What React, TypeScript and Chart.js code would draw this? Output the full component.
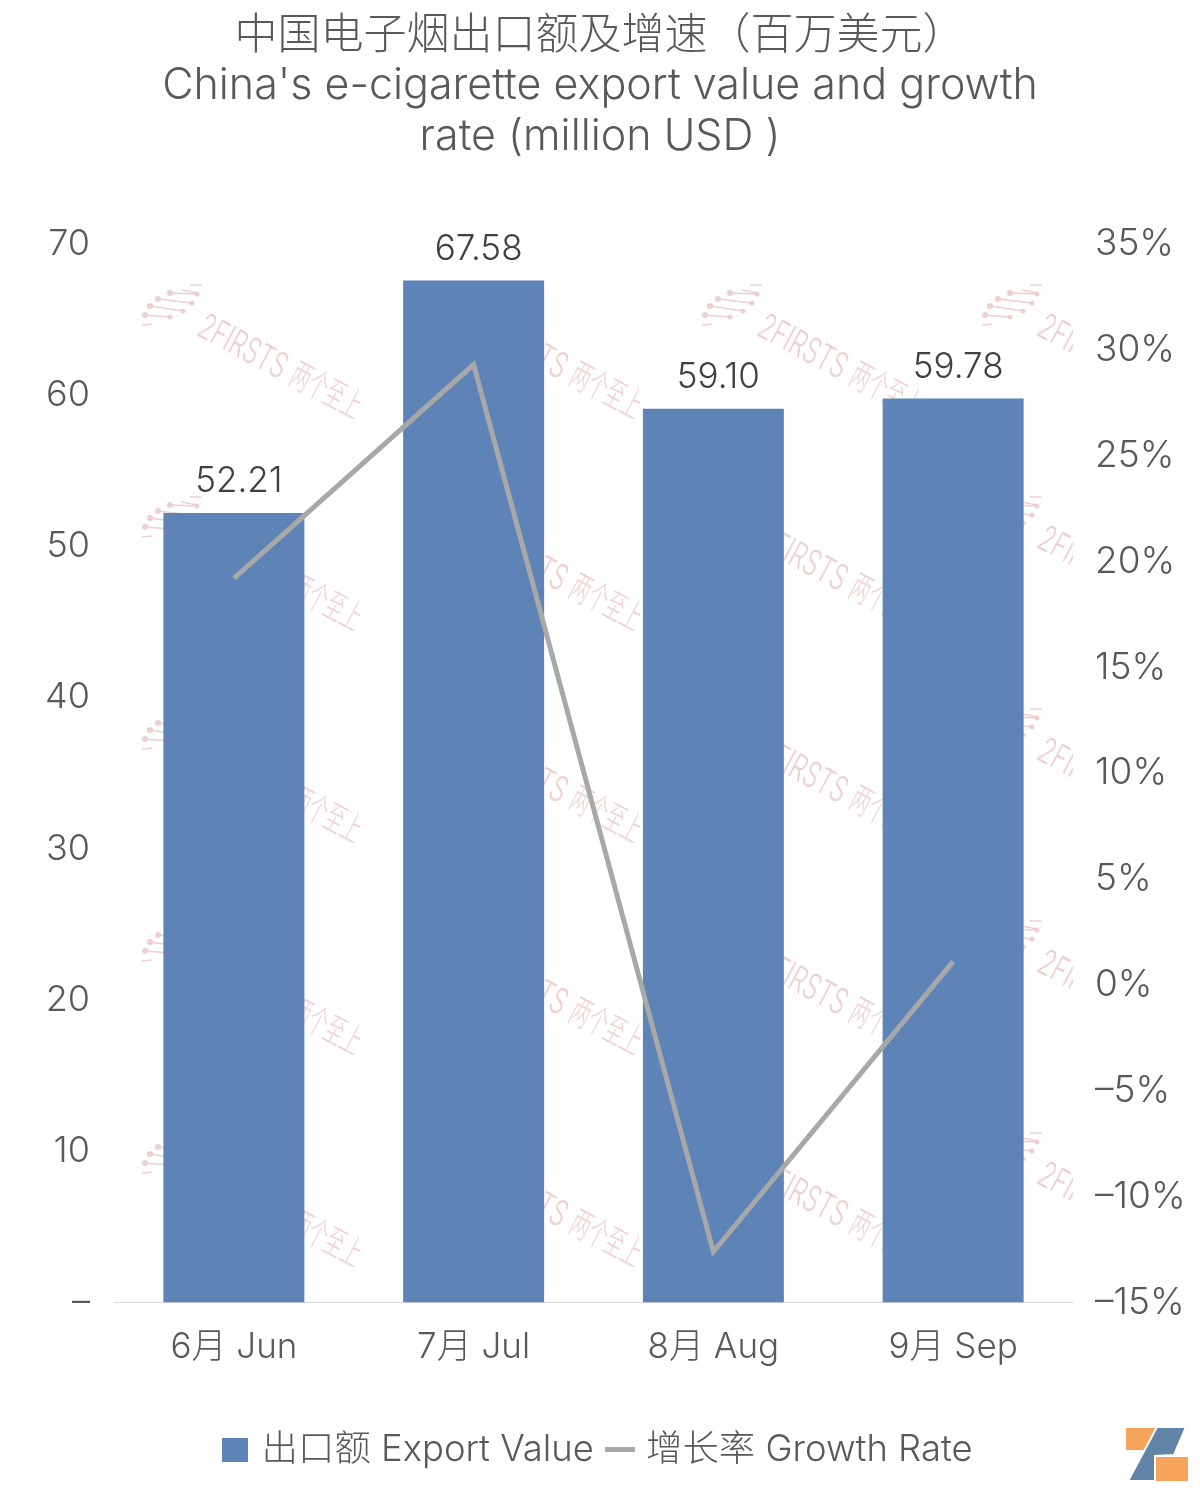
import { useEffect, useRef } from 'react'
import { Chart, registerables } from 'chart.js'

Chart.register(...registerables)

const FONT = 'Inter, "Noto Sans CJK SC", sans-serif'
const BAR_COLOR = '#5d83b7'
const LINE_COLOR = '#a8a8a8'
const TEXT_COLOR = '#595959'

const titleLines = ['中国电子烟出口额及增速（百万美元）', "China's e-cigarette export value and growth", 'rate (million USD )']
const months = ['6月 Jun', '7月 Jul', '8月 Aug', '9月 Sep']
const exportValue = [52.21, 67.58, 59.1, 59.78]
const growthRate = [19.2, 29.3, -12.6, 1.1]

// watermark icon strands, relative to the tile corner
const iconStrands = [
  [2, 40, 12, 39],
  [5, 30, 30, 32],
  [10, 21, 43, 26],
  [18, 14, 52, 18],
  [30, 8, 57, 9],
  [42, 5, 57, 8],
  [50, 0, 62, 0],
]

const makeSwatch = (w: number, h: number, color: string) => {
  const c = document.createElement('canvas')
  c.width = w
  c.height = h
  const ctx = c.getContext('2d')!
  ctx.fillStyle = color
  ctx.fillRect(0, 0, w, h)
  return c
}

const watermark = {
  id: 'watermark',
  beforeDatasetsDraw(chart: Chart) {
    const { ctx } = chart
    ctx.save()
    ctx.beginPath()
    ctx.rect(0, 200, 1073, 1103)
    ctx.clip()
    ctx.fillStyle = ctx.strokeStyle = '#efcfcf'
    for (let col = 0; col < 4; col++) {
      for (let row = 0; row < 5; row++) {
        const x = 140 + col * 280
        const y = 285 + row * 212
        ctx.lineWidth = 1.5
        iconStrands.forEach(([x1, y1, x2, y2], i) => {
          ctx.beginPath()
          ctx.moveTo(x + x1, y + y1)
          ctx.lineTo(x + x2, y + y2)
          ctx.stroke()
          if (i > 0 && i < 5) {
            ctx.beginPath()
            ctx.arc(x + x1, y + y1, 3, 0, Math.PI * 2)
            ctx.arc(x + x2, y + y2, 2.5, 0, Math.PI * 2)
            ctx.fill()
          }
        })
        // tilted brand text
        ctx.save()
        ctx.translate(x + 60, y + 40)
        ctx.rotate((28 * Math.PI) / 180)
        ctx.textAlign = 'left'
        ctx.textBaseline = 'middle'
        ctx.font = `300 30px ${FONT}`
        ctx.save()
        ctx.scale(0.8, 1.2)
        ctx.fillText('2FIRSTS', 0, 0)
        ctx.restore()
        ctx.save()
        ctx.translate(104, 0)
        ctx.scale(0.64, 1.15)
        ctx.fillText('两个至上', 0, 0)
        ctx.restore()
        ctx.restore()
      }
    }
    ctx.restore()
  },
}

const barLabels = {
  id: 'barLabels',
  afterDatasetsDraw(chart: Chart) {
    const { ctx } = chart
    ctx.save()
    chart.getDatasetMeta(0).data.forEach((bar, i) => {
      ctx.font = `300 35px ${FONT}`
      ctx.fillStyle = '#404040'
      ctx.textAlign = 'center'
      ctx.textBaseline = 'bottom'
      ctx.fillText(exportValue[i].toFixed(2), bar.x + 5, bar.y - 14)
    })
    ctx.restore()
  },
}

const logo = {
  id: 'logo',
  afterDraw(chart: Chart) {
    const { ctx } = chart
    ctx.save()
    ctx.fillStyle = '#f5a45c'
    ctx.fillRect(1126, 1428, 29, 22)
    ctx.fillRect(1156, 1457, 32, 24)
    ctx.fillStyle = '#5f84a8'
    ctx.strokeStyle = '#ffffff'
    ctx.lineWidth = 2
    ctx.beginPath()
    ctx.moveTo(1157, 1427)
    ctx.lineTo(1186, 1427)
    ctx.lineTo(1174, 1455)
    ctx.lineTo(1155, 1456)
    ctx.lineTo(1155, 1481)
    ctx.lineTo(1128, 1481)
    ctx.closePath()
    ctx.fill()
    ctx.stroke()
    ctx.restore()
  },
}

export default function App() {
  const canvasRef = useRef<HTMLCanvasElement>(null)

  useEffect(() => {
    if (!canvasRef.current) return
    const swatches = [makeSwatch(26, 24, BAR_COLOR), makeSwatch(30, 5, LINE_COLOR)]

    const chart = new Chart(canvasRef.current, {
      type: 'bar',
      data: {
        labels: months,
        datasets: [
          {
            type: 'bar',
            label: '出口额 Export Value',
            data: exportValue,
            backgroundColor: BAR_COLOR,
            categoryPercentage: 1,
            barPercentage: 0.588,
            yAxisID: 'y',
            order: 2,
          },
          {
            type: 'line',
            label: '增长率 Growth Rate',
            data: growthRate,
            borderColor: LINE_COLOR,
            backgroundColor: LINE_COLOR,
            borderWidth: 5,
            pointRadius: 0,
            tension: 0,
            yAxisID: 'y1',
            order: 1,
          },
        ],
      },
      options: {
        responsive: false,
        animation: false,
        layout: { padding: { top: 6, bottom: 16 } },
        plugins: {
          title: {
            display: true,
            text: titleLines,
            color: TEXT_COLOR,
            font: { family: FONT, size: 43, weight: 300, lineHeight: 1.17 },
            padding: { top: 5, bottom: 82 },
          },
          legend: {
            position: 'bottom',
            labels: {
              color: TEXT_COLOR,
              font: { family: FONT, size: 36.4, weight: 300 },
              usePointStyle: true,
              pointStyleWidth: 16,
              padding: 18,
              generateLabels: (c: Chart) =>
                Chart.defaults.plugins.legend.labels
                  .generateLabels(c)
                  .sort((a: any, b: any) => a.datasetIndex - b.datasetIndex)
                  .map((item: any) => ({ ...item, pointStyle: swatches[item.datasetIndex] })),
            },
          },
          tooltip: { enabled: false },
        },
        scales: {
          x: {
            afterFit: (s: any) => { s.height += 21 },
            grid: { display: false, drawTicks: false },
            border: { color: '#d9d9d9', width: 1 },
            ticks: { color: TEXT_COLOR, font: { family: FONT, size: 35, weight: 300 }, padding: 24, maxRotation: 0 },
          },
          y: {
            position: 'left',
            min: 0,
            max: 70,
            afterFit: (s: any) => { s.width = 114 },
            grid: { display: false, drawTicks: false },
            border: { display: false },
            ticks: {
              stepSize: 10,
              color: TEXT_COLOR,
              font: { family: FONT, size: 36, weight: 300 },
              padding: 24,
              callback: v => (v === 0 ? '–' : `${v}`),
            },
          },
          y1: {
            position: 'right',
            min: -15,
            max: 35,
            afterFit: (s: any) => { s.width = 127 },
            grid: { display: false, drawTicks: false },
            border: { display: false },
            ticks: {
              stepSize: 5,
              color: TEXT_COLOR,
              font: { family: FONT, size: 37, weight: 300 },
              padding: 22,
              callback: v => (Number(v) < 0 ? `–${Math.abs(Number(v))}%` : `${v}%`),
            },
          },
        },
      },
      plugins: [watermark, barLabels, logo],
    })

    return () => { chart.destroy() }
  }, [])

  return (
    <div style={{ position: 'absolute', left: 0, top: 0, width: 1200, height: 1494, background: '#fff' }}>
      <canvas ref={canvasRef} width={1200} height={1494} style={{ display: 'block' }} />
    </div>
  )
}
